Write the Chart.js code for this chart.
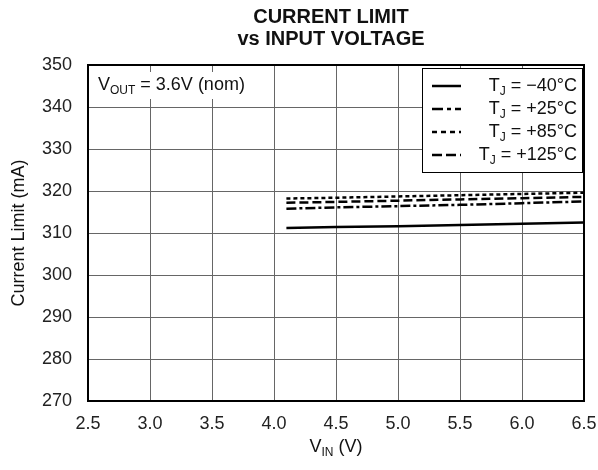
<!DOCTYPE html>
<html>
<head>
<meta charset="utf-8">
<script src="https://cdn.jsdelivr.net/npm/chart.js@4.4.1/dist/chart.umd.min.js"></script>
<style>
  html, body { margin: 0; padding: 0; background: #fff; }
  canvas { display: block; }
</style>
</head>
<body>
<canvas id="chart" width="598" height="470"></canvas>
<script>
// Chart data
const vin = [4.1, 4.5, 5.0, 5.5, 6.0, 6.5];
const limitM40 = [311.2, 311.4, 311.6, 311.9, 312.2, 312.5];
const limitP25 = [315.8, 316.1, 316.4, 316.7, 317.1, 317.5];
const limitP85 = [318.2, 318.4, 318.7, 319.0, 319.3, 319.6];
const limitP125 = [317.2, 317.4, 317.7, 318.0, 318.3, 318.6];
const legendTemps = ['\u221240\u00B0C', '+25\u00B0C', '+85\u00B0C', '+125\u00B0C'];

const FONT = '"Liberation Sans", Arial, Helvetica, sans-serif';

function pts(ys) {
    return vin.map((x, i) => ({ x: x, y: ys[i] }));
}

// draw "main" + subscript + rest, left aligned, returns end x
function subText(ctx, x, y, main, sub, rest, size) {
    ctx.font = size + 'px ' + FONT;
    ctx.fillText(main, x, y);
    x += ctx.measureText(main).width;
    ctx.font = Math.round(size * 0.68) + 'px ' + FONT;
    ctx.fillText(sub, x, y + size * 0.3);
    x += ctx.measureText(sub).width;
    ctx.font = size + 'px ' + FONT;
    ctx.fillText(rest, x, y);
    return x + ctx.measureText(rest).width;
}

function subWidth(ctx, main, sub, rest, size) {
    ctx.font = size + 'px ' + FONT;
    let w = ctx.measureText(main).width + ctx.measureText(rest).width;
    ctx.font = Math.round(size * 0.68) + 'px ' + FONT;
    return w + ctx.measureText(sub).width;
}

// Titles, frame, annotation and legend box
const decorPlugin = {
    id: 'decor',
    afterDatasetsDraw(chart) {
        const ctx = chart.ctx;
        const a = chart.chartArea;
        ctx.save();

        // frame
        ctx.strokeStyle = '#000';
        ctx.lineWidth = 2;
        ctx.strokeRect(a.left, a.top, a.right - a.left, a.bottom - a.top);

        // title
        const cx = 331;
        ctx.fillStyle = '#111';
        ctx.textAlign = 'center';
        ctx.textBaseline = 'middle';
        ctx.font = 'bold 20px ' + FONT;
        ctx.fillText('CURRENT LIMIT', cx, 17);
        ctx.fillText('vs INPUT VOLTAGE', cx, 39);

        // y axis title
        ctx.save();
        ctx.translate(19, (a.top + a.bottom) / 2);
        ctx.rotate(-Math.PI / 2);
        ctx.font = '18px ' + FONT;
        ctx.fillText('Current Limit (mA)', 0, 0);
        ctx.restore();

        // x axis title
        ctx.textAlign = 'left';
        const xw = subWidth(ctx, 'V', 'IN', ' (V)', 18);
        subText(ctx, (a.left + a.right) / 2 - xw / 2, 447, 'V', 'IN', ' (V)', 18);

        // annotation box
        ctx.fillStyle = '#fff';
        ctx.fillRect(a.left + 2, a.top + 7, 178, 27);
        ctx.fillStyle = '#111';
        subText(ctx, 98, 85, 'V', 'OUT', ' = 3.6V (nom)', 18);

        // legend box
        const lx = 422, ly = 68, lw = 160, lh = 104;
        ctx.fillStyle = '#fff';
        ctx.fillRect(lx, ly, lw, lh);
        ctx.strokeStyle = '#000';
        ctx.lineWidth = 1;
        ctx.strokeRect(lx + 0.5, ly + 0.5, lw, lh);

        const rows = [86, 109, 132, 155];
        const dashes = [[], [11, 4, 4, 4], [5, 4], [10, 4]];
        chart.data.datasets.forEach((ds, i) => {
            const y = rows[i];
            ctx.strokeStyle = '#000';
            ctx.lineWidth = 2.5;
            ctx.setLineDash(dashes[i]);
            ctx.beginPath();
            ctx.moveTo(432, y);
            ctx.lineTo(461, y);
            ctx.stroke();
            ctx.setLineDash([]);
            ctx.fillStyle = '#111';
            const w = subWidth(ctx, 'T', 'J', ' = ' + legendTemps[i], 18);
            subText(ctx, 577 - w, y, 'T', 'J', ' = ' + legendTemps[i], 18);
        });

        ctx.restore();
    }
};

function makeDataset(label, ys, dash) {
    return {
        label: label,
        data: pts(ys),
        borderColor: '#000',
        borderWidth: 2.5,
        borderDash: dash,
        pointRadius: 0,
        fill: false,
        tension: 0
    };
}

const chart = new Chart(document.getElementById('chart').getContext('2d'), {
    type: 'line',
    data: {
        datasets: [
            makeDataset('TJ = -40C', limitM40, []),
            makeDataset('TJ = +25C', limitP25, [10, 3, 3, 3]),
            makeDataset('TJ = +85C', limitP85, [4, 3]),
            makeDataset('TJ = +125C', limitP125, [9, 4])
        ]
    },
    options: {
        responsive: false,
        animation: false,
        layout: { padding: { top: 65, right: 14, left: 0, bottom: 0 } },
        plugins: {
            legend: { display: false },
            title: { display: false },
            tooltip: { enabled: false }
        },
        scales: {
            x: {
                type: 'linear',
                min: 2.5,
                max: 6.5,
                afterFit: s => {
                    s.height = 69;
                    s.paddingLeft = 0;
                    s.paddingRight = 0;
                },
                ticks: {
                    stepSize: 0.5,
                    padding: 12,
                    color: '#222',
                    font: { family: FONT, size: 18 },
                    callback: v => v.toFixed(1)
                },
                grid: { color: '#666', lineWidth: 1, drawTicks: false },
                border: { display: false }
            },
            y: {
                min: 270,
                max: 350,
                afterFit: s => {
                    s.width = 88;
                    s.paddingTop = 0;
                    s.paddingBottom = 0;
                },
                ticks: {
                    stepSize: 10,
                    padding: 16,
                    color: '#222',
                    font: { family: FONT, size: 18 }
                },
                grid: { color: '#666', lineWidth: 1, drawTicks: false },
                border: { display: false }
            }
        }
    },
    plugins: [decorPlugin]
});
</script>
</body>
</html>
